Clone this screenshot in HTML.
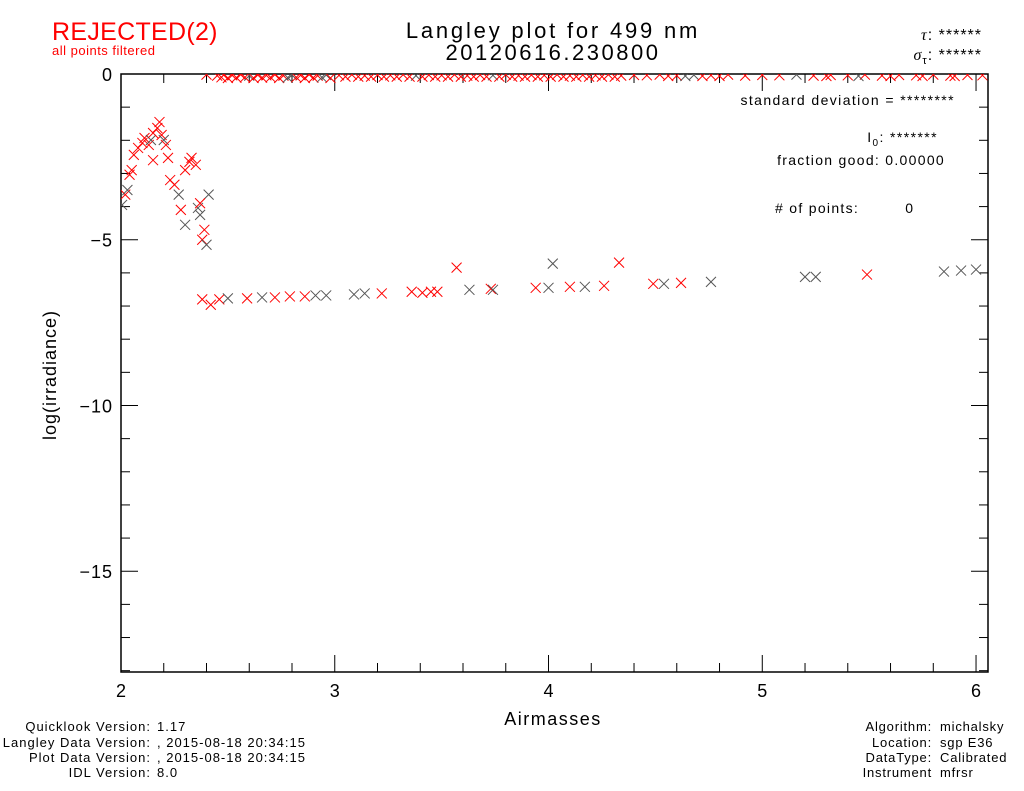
<!DOCTYPE html>
<html><head><meta charset="utf-8">
<style>
body{margin:0;background:#fff;}
svg text{font-family:"Liberation Sans",sans-serif;}
</style></head>
<body>
<svg id="chart" width="1024" height="786" xmlns="http://www.w3.org/2000/svg">
<rect width="1024" height="786" fill="#fff"/>
<text x="52" y="40" font-size="25" fill="#f00" letter-spacing="0.3">REJECTED(2)</text>
<text x="52" y="55" font-size="13" fill="#f00" letter-spacing="0.5">all points filtered</text>
<text x="553" y="38" font-size="22" text-anchor="middle" letter-spacing="2.8">Langley plot for 499 nm</text>
<text x="553" y="60" font-size="22" text-anchor="middle" letter-spacing="2.5">20120616.230800</text>
<text x="982" y="40" font-size="16" text-anchor="end" letter-spacing="1"><tspan font-style="italic" font-family="Liberation Serif">τ</tspan>: ******</text>
<text x="982" y="60" font-size="16" text-anchor="end" letter-spacing="1"><tspan font-style="italic" font-family="Liberation Serif">σ</tspan><tspan font-size="11" dy="4">τ</tspan><tspan dy="-4">: ******</tspan></text>
<g id="plot"></g>
<text x="955" y="105" font-size="14" text-anchor="end" letter-spacing="1.4">standard deviation  = ********</text>
<text x="938" y="142" font-size="14" text-anchor="end" letter-spacing="1.4">I<tspan font-size="10" dy="4">0</tspan><tspan dy="-4">: *******</tspan></text>
<text x="945" y="165" font-size="14" text-anchor="end" letter-spacing="1.3">fraction good: 0.00000</text>
<text x="775" y="213" font-size="14" letter-spacing="1.3"># of points:</text>
<text x="913" y="213" font-size="14" text-anchor="end">0</text>
<text transform="translate(56,375) rotate(-90)" font-size="18" text-anchor="middle" letter-spacing="1">log(irradiance)</text>
<text x="553" y="725" font-size="18" text-anchor="middle" letter-spacing="1.5">Airmasses</text>
<g font-size="13" letter-spacing="1">
<text x="151" y="731" text-anchor="end">Quicklook Version:</text><text x="157" y="731">1.17</text>
<text x="151" y="747" text-anchor="end">Langley Data Version:</text><text x="157" y="747">, 2015-08-18 20:34:15</text>
<text x="151" y="762" text-anchor="end">Plot Data Version:</text><text x="157" y="762">, 2015-08-18 20:34:15</text>
<text x="151" y="777" text-anchor="end">IDL Version:</text><text x="157" y="777">8.0</text>
</g>
<g font-size="13" letter-spacing="0.8">
<text x="932" y="731" text-anchor="end">Algorithm:</text><text x="940" y="731">michalsky</text>
<text x="932" y="747" text-anchor="end">Location:</text><text x="940" y="747">sgp E36</text>
<text x="932" y="762" text-anchor="end">DataType:</text><text x="940" y="762">Calibrated</text>
<text x="932" y="777" text-anchor="end">Instrument</text><text x="940" y="777">mfrsr</text>
</g>
</svg>
<script>
const xTicks=[2,3,4,5,6];
const yTicks=[0,-5,-10,-15];
const xMin=2, xMax=6.056, yMin=-18.04, yMax=0;
// point data: airmass, log irradiance, color flag (1=red,0=gray)
const ptX=[2.005,2.02,2.03,2.04,2.05,2.06,2.08,2.1,2.11,2.13,2.14,2.15,2.17,2.18,2.19,2.2,2.21,2.22,2.15,2.23,2.25,2.27,2.28,2.3,2.3,2.32,2.33,2.35,2.36,2.37,2.38,2.39,2.4,2.41,2.37,
2.38,2.42,2.46,2.5,2.59,2.66,2.72,2.79,2.86,2.91,2.96,3.09,3.14,3.22,3.36,3.41,3.45,3.48,3.57,3.63,3.73,3.74,3.94,4.0,4.02,4.1,4.17,4.26,4.33,4.49,4.54,4.62,4.76,5.2,5.25,5.49,5.85,5.93,6.0,
2.4,2.45,2.48,2.52,2.56,2.6,2.64,2.68,2.72,2.76,2.8,2.84,2.88,2.92,2.96,3.02,3.08,3.14,3.2,3.26,3.32,3.38,3.44,3.5,3.56,3.62,3.68,3.74,3.8,3.86,3.92,3.98,4.04,4.1,4.16,4.22,4.28,4.34,4.4,4.46,4.52,4.6,4.68,4.76,4.84,4.92,5.0,5.08,5.16,5.24,5.32,5.4,5.48,5.56,5.64,5.72,5.8,5.88,5.96,6.03,
2.47,2.5,2.54,2.58,2.62,2.66,2.7,2.74,2.78,2.82,2.86,2.9,2.94,2.98,3.05,3.11,3.17,3.23,3.29,3.35,3.41,3.47,3.53,3.59,3.65,3.71,3.77,3.83,3.89,3.95,4.01,4.07,4.13,4.19,4.25,4.31,4.56,4.64,4.72,4.8,5.3,5.45,5.6,5.75,5.9];
const ptY=[-3.95,-3.64,-3.5,-3.04,-2.9,-2.44,-2.23,-2.08,-1.93,-2.14,-1.99,-1.78,-1.63,-1.45,-1.84,-1.99,-2.14,-2.53,-2.6,-3.2,-3.34,-3.64,-4.1,-4.55,-2.9,-2.65,-2.53,-2.74,-4.04,-4.25,-5.0,-4.7,-5.15,-3.64,-3.9,
-6.8,-6.96,-6.8,-6.77,-6.77,-6.74,-6.74,-6.71,-6.71,-6.68,-6.68,-6.65,-6.62,-6.62,-6.57,-6.6,-6.57,-6.57,-5.84,-6.51,-6.48,-6.51,-6.45,-6.45,-5.72,-6.42,-6.42,-6.39,-5.69,-6.33,-6.33,-6.3,-6.27,-6.12,-6.12,-6.05,-5.96,-5.93,-5.9,
-0.02,-0.05,-0.03,-0.04,-0.02,-0.05,-0.03,-0.04,-0.02,-0.05,-0.03,-0.04,-0.02,-0.05,-0.03,-0.04,-0.02,-0.05,-0.03,-0.04,-0.02,-0.05,-0.03,-0.04,-0.02,-0.05,-0.03,-0.04,-0.02,-0.05,-0.03,-0.04,-0.02,-0.05,-0.03,-0.04,-0.02,-0.05,-0.03,-0.04,-0.02,-0.05,-0.03,-0.04,-0.02,-0.05,-0.03,-0.04,-0.02,-0.05,-0.03,-0.04,-0.02,-0.05,-0.03,-0.04,-0.02,-0.05,-0.03,-0.04,
-0.1,-0.12,-0.11,-0.1,-0.12,-0.11,-0.1,-0.12,-0.11,-0.1,-0.12,-0.11,-0.1,-0.12,-0.08,-0.08,-0.08,-0.08,-0.08,-0.08,-0.08,-0.08,-0.08,-0.08,-0.08,-0.08,-0.08,-0.08,-0.08,-0.08,-0.08,-0.08,-0.08,-0.08,-0.08,-0.08,-0.06,-0.06,-0.06,-0.06,-0.06,-0.06,-0.06,-0.06,-0.06];
const ptC=[0,1,0,1,1,1,1,1,1,1,0,1,1,1,1,0,1,1,1,1,1,0,1,0,1,1,1,1,0,0,1,1,0,0,1,
1,1,1,0,1,0,1,1,1,0,0,0,0,1,1,1,1,1,1,0,1,0,1,0,0,1,0,1,1,1,0,1,0,0,0,1,0,0,0,
1,1,1,1,1,0,1,1,1,1,0,1,1,1,0,1,1,1,1,1,1,0,1,1,1,1,1,0,1,1,1,1,1,1,1,1,1,1,1,1,1,1,0,1,1,1,1,1,0,1,1,1,1,1,1,1,1,1,1,1,
1,1,1,1,1,1,1,1,0,1,1,1,0,1,1,1,1,1,1,1,1,1,1,1,1,1,1,1,1,1,1,1,1,1,1,1,1,0,1,1,1,0,1,1,1];

const L=121,R=988,T=74,B=672;
const sx=v=>L+(v-xMin)/(xMax-xMin)*(R-L);
const sy=v=>T+(yMax-v)/(yMax-yMin)*(B-T);
const NS='http://www.w3.org/2000/svg';
const plot=document.getElementById('plot');
function mk(tag,attrs){const e=document.createElementNS(NS,tag);for(const k in attrs)e.setAttribute(k,attrs[k]);return e;}
const frame=mk('rect',{x:L,y:T,width:R-L,height:B-T,fill:'none',stroke:'#000','stroke-width':1.5});


plot.appendChild(frame);
for(let v=2;v<=6.001;v+=0.2){
  const major=Math.abs(v-Math.round(v))<1e-6;
  const len=major?17:9, x=sx(v);
  const t1=mk('line',{x1:x,y1:B,x2:x,y2:B-len,stroke:'#000'});
  
  
  plot.appendChild(t1);
  const t2=mk('line',{x1:x,y1:T,x2:x,y2:T+len,stroke:'#000'});
  
  
  plot.appendChild(t2);
}
xTicks.forEach(v=>{
  const t=mk('text',{x:sx(v),y:B+25,'font-size':18,'text-anchor':'middle'});
  t.textContent=v;
  
  
  plot.appendChild(t);
});
for(let v=0;v>=-18;v--){
  const major=v%5===0, len=major?17:9, y=sy(v);
  const t1=mk('line',{x1:L,y1:y,x2:L+len,y2:y,stroke:'#000'});
  
  
  plot.appendChild(t1);
  const t2=mk('line',{x1:R,y1:y,x2:R-len,y2:y,stroke:'#000'});
  
  
  plot.appendChild(t2);
}
yTicks.forEach(v=>{
  const t=mk('text',{x:L-8,y:sy(v)+7,'font-size':18,'text-anchor':'end','letter-spacing':1});
  t.textContent=v===0?'0':'\u2212'+Math.abs(v);
  
  
  plot.appendChild(t);
});
const clip=mk('clipPath',{id:'pc'});
clip.appendChild(mk('rect',{x:L,y:T,width:R-L,height:B-T}));
plot.appendChild(clip);
const g=mk('g',{'clip-path':'url(#pc)'});


plot.appendChild(g);
ptX.forEach((v,i)=>{
  const x=sx(v),y=sy(ptY[i]),s=5;
  const c=ptC[i]?'#f00':'#555';
  const p=mk('path',{d:`M${x-s},${y-s}L${x+s},${y+s}M${x-s},${y+s}L${x+s},${y-s}`,stroke:c,'stroke-width':1});
  
  
  g.appendChild(p);
});
</script>
</body></html>
